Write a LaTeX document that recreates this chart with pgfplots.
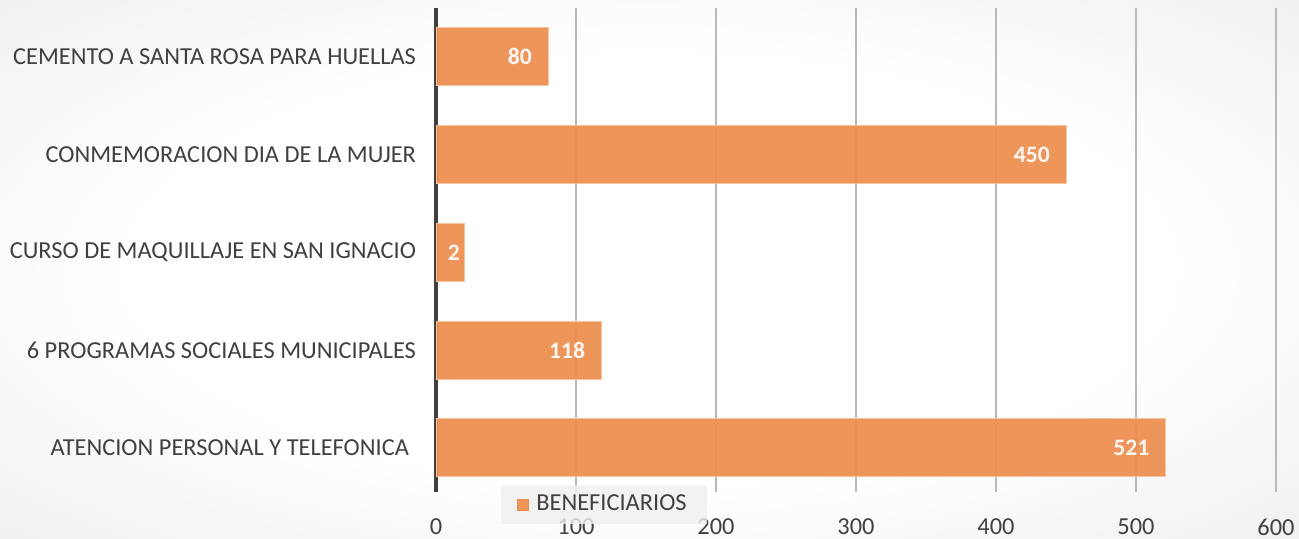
\documentclass[border=0pt]{standalone}
\usepackage{fontspec}
\setmainfont{Carlito}
\usepackage{pgfplots}
\pgfplotsset{compat=1.18}
\definecolor{barc}{RGB}{237,142,78}
\definecolor{bord}{RGB}{247,196,160}
\definecolor{txt}{RGB}{64,64,64}
\definecolor{gridc}{RGB}{185,185,185}
\definecolor{bgmid}{RGB}{226,226,226}
\definecolor{bgout}{RGB}{212,212,212}
\definecolor{legc}{RGB}{240,240,240}
\pgfdeclareradialshading{bgshade}{\pgfpoint{0bp}{0bp}}{color(0bp)=(white); color(20bp)=(white); color(50bp)=(bgmid); color(71bp)=(bgout)}
\begin{document}
\begin{tikzpicture}
\useasboundingbox (0,0) rectangle (649.5pt,269.5pt);
\shade[shading=bgshade] (0,0) rectangle (649.5pt,269.5pt);
\begin{axis}[
  at={(218pt,23.5pt)}, anchor=south west, scale only axis,
  width=420pt, height=242pt,
  xbar, bar width=29pt, bar shift=0pt,
  xmin=0, xmax=600, ymin=-0.45, ymax=4.5,
  xtick={100,200,...,600},
  extra x ticks={0},
  extra x tick style={grid style={line width=1.6pt, color=txt}},
  xmajorgrids, grid style={line width=0.7pt, color=gridc},
  ytick={0,1,2,3,4},
  yticklabels={ATENCION PERSONAL Y TELEFONICA\hspace*{3.5pt},
               6 PROGRAMAS SOCIALES MUNICIPALES,
               CURSO DE MAQUILLAJE EN SAN IGNACIO,
               CONMEMORACION DIA DE LA MUJER,
               CEMENTO A SANTA ROSA PARA HUELLAS},
  major tick length=0pt,
  axis line style={draw=none},
  tick label style={font=\fontsize{12.2}{14}\selectfont, text=txt},
  /pgf/number format/assume math mode=true,
  xticklabel style={anchor=center, yshift=-17.5pt},
  yticklabel style={anchor=east, xshift=-6.5pt},
  legend style={at={(0.2,-0.026)}, anchor=center, fill=legc, fill opacity=0.8,
     text opacity=1, draw=none, inner xsep=8pt, inner ysep=3pt,
     font=\fontsize{12.2}{14}\selectfont, text=txt},
  legend image code/.code={\fill[barc] (0pt,-2.75pt) rectangle (5.5pt,2.75pt);},
  point meta=explicit symbolic,
  nodes near coords,
  every node near coord/.append style={anchor=east, xshift=-4.5pt,
     font=\bfseries\fontsize{11.8}{13}\selectfont, text=white},
]
\addplot[fill=barc, fill opacity=0.93, draw=bord, line width=0.5pt] coordinates {
  (521,0) [521]
  (118,1) [118]
  (80,4) [80]
  (450,3) [450]
};
\addlegendentry{\hspace*{1.5pt}BENEFICIARIOS}
\addplot[fill=barc, fill opacity=0.93, draw=bord, line width=0.5pt, forget plot,
  every node near coord/.append style={xshift=6pt}] coordinates {
  (20,2) [2]
};
\end{axis}
\end{tikzpicture}
\end{document}
